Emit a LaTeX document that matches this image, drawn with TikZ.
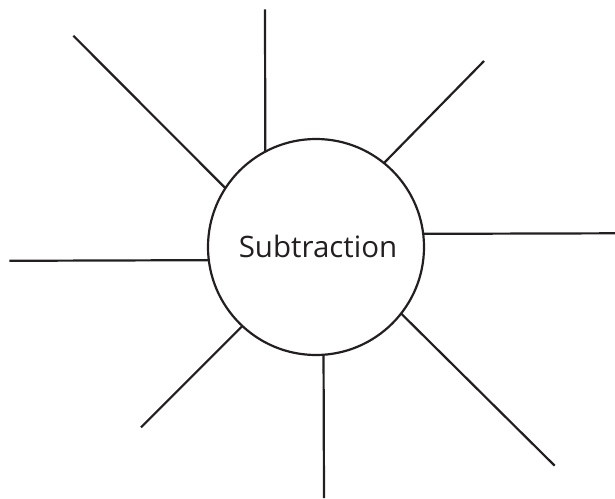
\documentclass[tikz,border=0pt]{standalone}
\usepackage{fontspec}
\setmainfont{Open Sans}
\definecolor{ink}{HTML}{231F20}
\begin{document}
\begin{tikzpicture}[x=1pt,y=-1pt,
  ray/.style={draw=ink,line width=2.2pt},
  hub/.style={circle,draw=ink,line width=2.2pt,minimum size=216pt,inner sep=0pt,outer sep=0pt},
  lbl/.style={text=ink,font=\fontsize{29.5}{34}\selectfont,inner sep=0pt,anchor=base}]
\useasboundingbox (0,0) rectangle (615,498);
\node[hub] (c) at (316,247) {};
\node[lbl] (t) at (318,257.3) {Subtraction};
\coordinate (pTop) at (265,9.3);
\coordinate (pUL) at (73.3,35.7);
\coordinate (pUR) at (484,61);
\coordinate (pR) at (615,233.3);
\coordinate (pL) at (9.3,260.8);
\coordinate (pLL) at (141,427.3);
\coordinate (pB) at (324,498);
\coordinate (pLR) at (554.7,465.7);
\draw[ray] (c.118.2) -- (pTop);
\draw[ray] (c.147) -- (pUL);
\draw[ray] (c.51.7) -- (pUR);
\draw[ray] (c.7.2) -- (pR);
\draw[ray] (c.187.2) -- (pL);
\draw[ray] (c.227) -- (pLL);
\draw[ray] (c.274.2) -- (pB);
\draw[ray] (c.322.3) -- (pLR);
\end{tikzpicture}
\end{document}
